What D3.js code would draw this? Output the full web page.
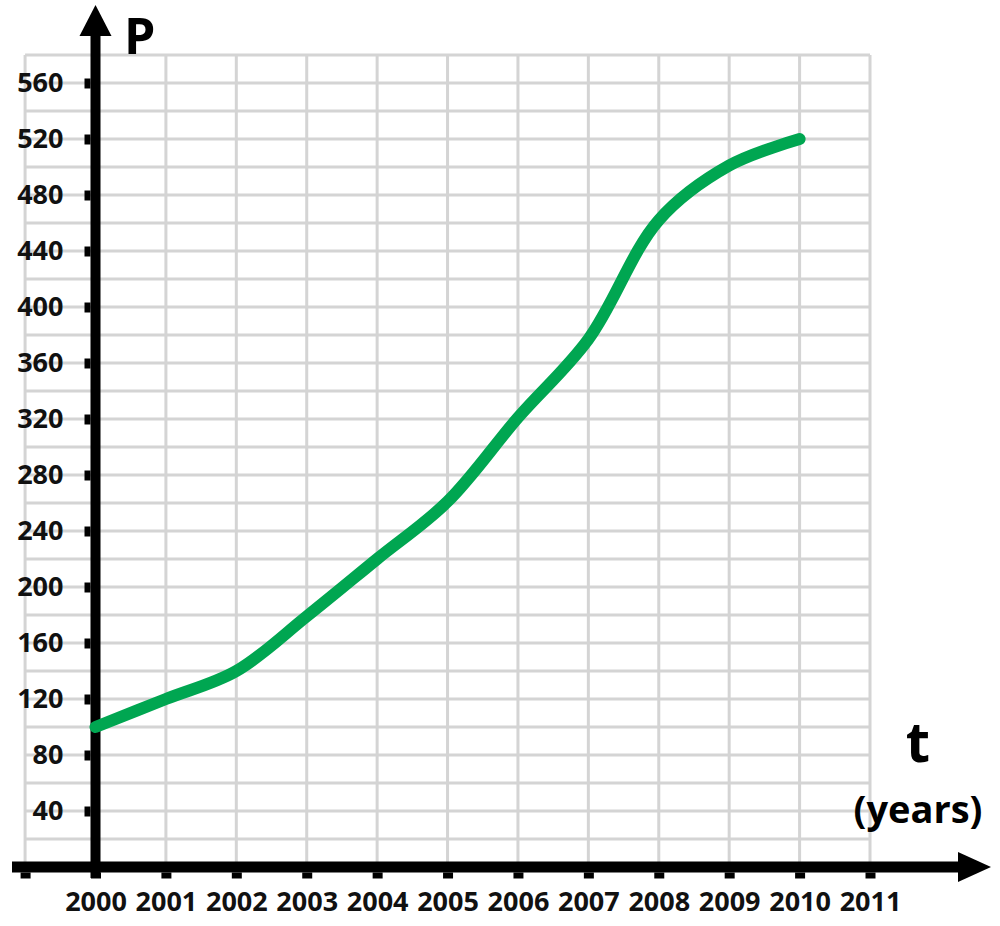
<!DOCTYPE html>
<html>
<head>
<meta charset="utf-8">
<script src="https://cdn.jsdelivr.net/npm/d3@7"></script>
<style>
  body { margin: 0; background: #fff; }
  svg { display: block; font-family: "Open Sans", sans-serif; font-weight: bold; }
</style>
</head>
<body>
<div id="chart"></div>
<script>
"use strict";

// values
const years = [2000, 2001, 2002, 2003, 2004, 2005, 2006, 2007, 2008, 2009, 2010];
const population = [100, 120, 140, 179, 220, 261, 321, 377, 462, 501, 520];
const yTicks = [40, 80, 120, 160, 200, 240, 280, 320, 360, 400, 440, 480, 520, 560];
const xTicks = [1999, 2000, 2001, 2002, 2003, 2004, 2005, 2006, 2007, 2008, 2009, 2010, 2011];
const yGrid = d3.range(20, 600, 20);

const width = 1000;
const height = 926;

let x = d3.scaleLinear()
  .domain([2000, 2011])
  .range([95.5, 870]);

let y = d3.scaleLinear()
  .domain([0, 580])
  .range([867, 55]);

let svg = d3.select('#chart')
  .append('svg')
  .attr('width', width)
  .attr('height', height);

// grid
let grid = svg.append('g')
  .attr('stroke', '#d4d4d4')
  .attr('stroke-width', 3);

grid.selectAll('line.v')
  .data(xTicks)
  .enter().append('line')
  .attr('class', 'v')
  .attr('x1', d => x(d))
  .attr('x2', d => x(d))
  .attr('y1', y(0))
  .attr('y2', y(580));

grid.selectAll('line.h')
  .data(yGrid)
  .enter().append('line')
  .attr('class', 'h')
  .attr('x1', x(1999))
  .attr('x2', x(2011))
  .attr('y1', d => y(d))
  .attr('y2', d => y(d));

// axis lines with arrow heads
svg.append('line')
  .attr('x1', x(2000)).attr('x2', x(2000))
  .attr('y1', y(0) + 11).attr('y2', 36)
  .attr('stroke', '#000')
  .attr('stroke-width', 10);

svg.append('path')
  .attr('d', 'M' + (x(2000) - 16) + ',36 L' + x(2000) + ',5 L' + (x(2000) + 16) + ',36 Z')
  .attr('fill', '#000');

svg.append('line')
  .attr('x1', 12).attr('x2', 960)
  .attr('y1', y(0)).attr('y2', y(0))
  .attr('stroke', '#000')
  .attr('stroke-width', 11);

svg.append('path')
  .attr('d', 'M958,' + (y(0) - 15) + ' L991,' + y(0) + ' L958,' + (y(0) + 15) + ' Z')
  .attr('fill', '#000');

// tick marks and labels
let yAxis = svg.append('g')
  .attr('transform', 'translate(' + (x(2000) - 5) + ',0)')
  .call(d3.axisLeft(y).tickValues(yTicks).tickSize(6).tickPadding(21));

let xAxis = svg.append('g')
  .attr('transform', 'translate(0,' + (y(0) + 5.5) + ')')
  .call(d3.axisBottom(x).tickValues(xTicks).tickSize(6).tickPadding(13)
    .tickFormat(d => d === 1999 ? '' : d));

[yAxis, xAxis].forEach(g => {
  g.select('.domain').remove();
  g.selectAll('.tick line')
    .attr('stroke', '#000')
    .attr('stroke-width', 10);
  g.selectAll('.tick text')
    .attr('fill', '#111')
    .style('font-family', '"Open Sans", sans-serif')
    .style('font-weight', 'bold')
    .style('font-size', '27px');
});

// data line
let line = d3.line()
  .x((d, i) => x(years[i]))
  .y(d => y(d))
  .curve(d3.curveCatmullRom.alpha(0.5));

svg.append('path')
  .datum(population)
  .attr('d', line)
  .attr('fill', 'none')
  .attr('stroke', '#00a651')
  .attr('stroke-width', 12)
  .attr('stroke-linecap', 'round')
  .attr('stroke-linejoin', 'round');

// axis titles
svg.append('text')
  .attr('x', 124)
  .attr('y', 54)
  .style('font-size', '50px')
  .text('P');

svg.append('text')
  .attr('x', 918)
  .attr('y', 762)
  .attr('text-anchor', 'middle')
  .style('font-size', '56px')
  .text('t');

svg.append('text')
  .attr('x', 918)
  .attr('y', 823)
  .attr('text-anchor', 'middle')
  .style('font-size', '38px')
  .text('(years)');
</script>
</body>
</html>
